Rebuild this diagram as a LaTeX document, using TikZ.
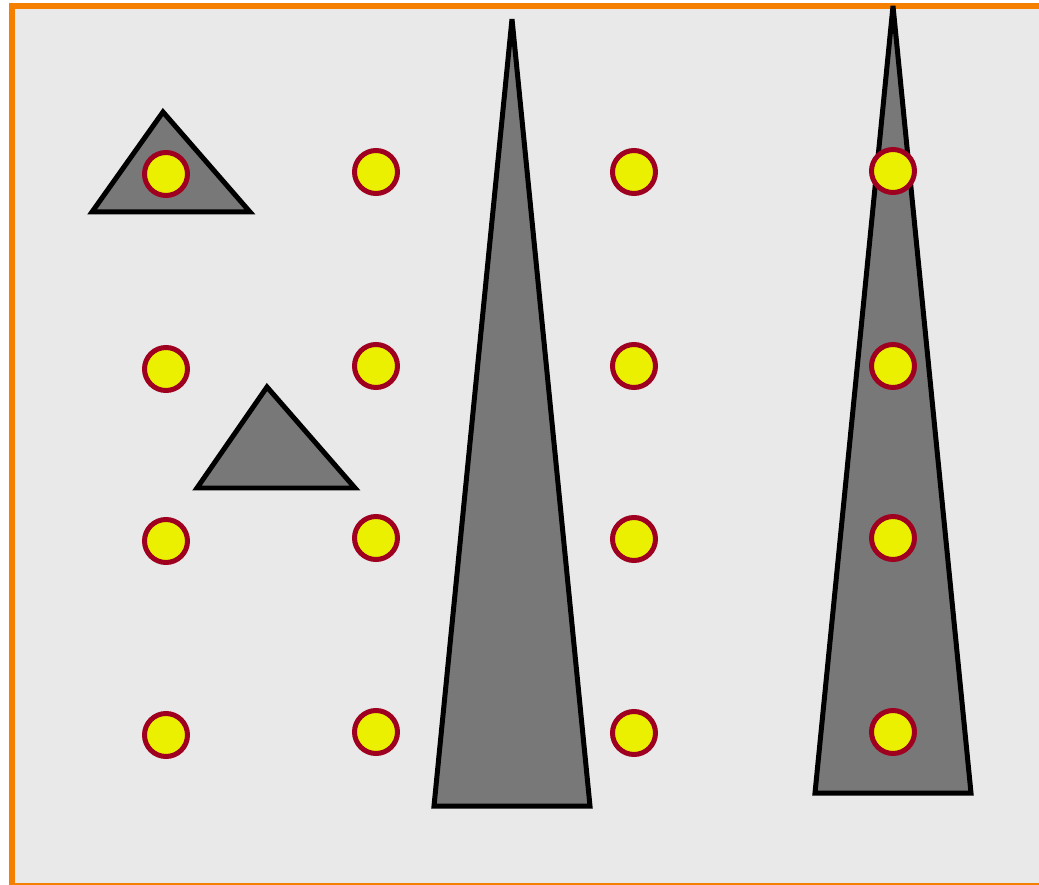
\documentclass[tikz,border=0pt]{standalone}
\usepackage{xcolor}
\usepackage{tikz}
\definecolor{panelgray}{HTML}{E9E9E9}
\definecolor{frameorange}{HTML}{F58000}
\definecolor{spikegray}{HTML}{787878}
\definecolor{dotyellow}{HTML}{EBF000}
\definecolor{dotred}{HTML}{A00020}

\begin{document}
\begin{tikzpicture}[x=0.02cm,y=-0.02cm]
\tikzstyle{frame} = [draw=frameorange, line width=0.12cm, fill=panelgray]
\tikzstyle{spike} = [draw=black, line width=0.1cm, fill=spikegray]
\tikzstyle{dot} = [circle, draw=dotred, line width=0.1cm, fill=dotyellow, minimum size=0.86cm, inner sep=0pt]

\useasboundingbox (0,0) rectangle (1039,885);
\draw [frame] (12,6) rectangle (1045,886);

% triangles
\draw [spike] (163,112) -- (250,212) -- (92,212) -- cycle;
\draw [spike] (267,387) -- (355,488) -- (197,488) -- cycle;
\draw [spike] (512,19) -- (590,806) -- (434,806) -- cycle;
\draw [spike] (893,6) -- (971,793) -- (815,793) -- cycle;

% dots, one column at a time
\node (a1) [dot] at (166,174) {};
\node (a2) [dot] at (166,369) {};
\node (a3) [dot] at (166,541) {};
\node (a4) [dot] at (166,735) {};
\node (b1) [dot] at (376,172) {};
\node (b2) [dot] at (376,366) {};
\node (b3) [dot] at (376,538) {};
\node (b4) [dot] at (376,732) {};
\node (c1) [dot] at (634,172) {};
\node (c2) [dot] at (634,366) {};
\node (c3) [dot] at (634,539) {};
\node (c4) [dot] at (634,733) {};
\node (d1) [dot] at (893,171) {};
\node (d2) [dot] at (893,366) {};
\node (d3) [dot] at (893,538) {};
\node (d4) [dot] at (893,732) {};

\end{tikzpicture}
\end{document}
